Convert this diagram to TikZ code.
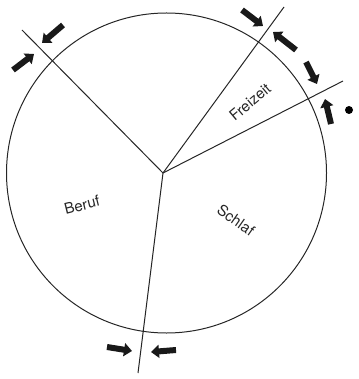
\documentclass[tikz,border=0pt]{standalone}
\usepackage{fontspec}
\setmainfont{TeX Gyre Heros}
\usetikzlibrary{arrows.meta}
\tikzset{
  rim/.style={line width=1pt, black!85},
  spoke/.style={line width=1pt, black!85},
  push/.style={line width=6pt, -{Triangle[width=13pt,length=8pt]}, black!90},
  label/.style={font=\fontsize{15}{17}\selectfont, black!85, inner sep=1pt}
}
\begin{document}
\begin{tikzpicture}[x=1pt,y=-1pt]
\useasboundingbox (0,0) rectangle (358,379);
\draw[rim] (166.5,173) circle (160);
\coordinate (hub) at (163,173);
\coordinate (ul) at (22,30);
\coordinate (tr) at (284,7);
\coordinate (fr) at (343,81);
\coordinate (bt) at (138,373);
\draw[spoke] (hub) -- (ul);
\draw[spoke] (hub) -- (tr);
\draw[spoke] (hub) -- (fr);
\draw[spoke] (hub) -- (bt);
% Pfeile an den Grenzen
\coordinate (a1) at (13,70);  \coordinate (a1t) at (34,54);
\coordinate (a2) at (63,25);  \coordinate (a2t) at (42,43);
\coordinate (a3) at (242,10); \coordinate (a3t) at (263,26);
\coordinate (a4) at (296,50); \coordinate (a4t) at (273,32);
\coordinate (a5) at (306,62); \coordinate (a5t) at (317,84);
\coordinate (a6) at (331,124); \coordinate (a6t) at (325,99);
\coordinate (a7) at (107,347); \coordinate (a7t) at (132,351);
\coordinate (a8) at (176,350); \coordinate (a8t) at (151,352);
\draw[push] (a1) -- (a1t);
\draw[push] (a2) -- (a2t);
\draw[push] (a3) -- (a3t);
\draw[push] (a4) -- (a4t);
\draw[push] (a5) -- (a5t);
\draw[push] (a6) -- (a6t);
\draw[push] (a7) -- (a7t);
\draw[push] (a8) -- (a8t);
\fill (349,110) circle (4);
\node[label, rotate=14] (beruf) at (82,205) {Beruf};
\node[label, rotate=-35] (schlaf) at (236,220) {Schlaf};
\node[label, rotate=40] (freizeit) at (250,102) {Freizeit};
\end{tikzpicture}
\end{document}
